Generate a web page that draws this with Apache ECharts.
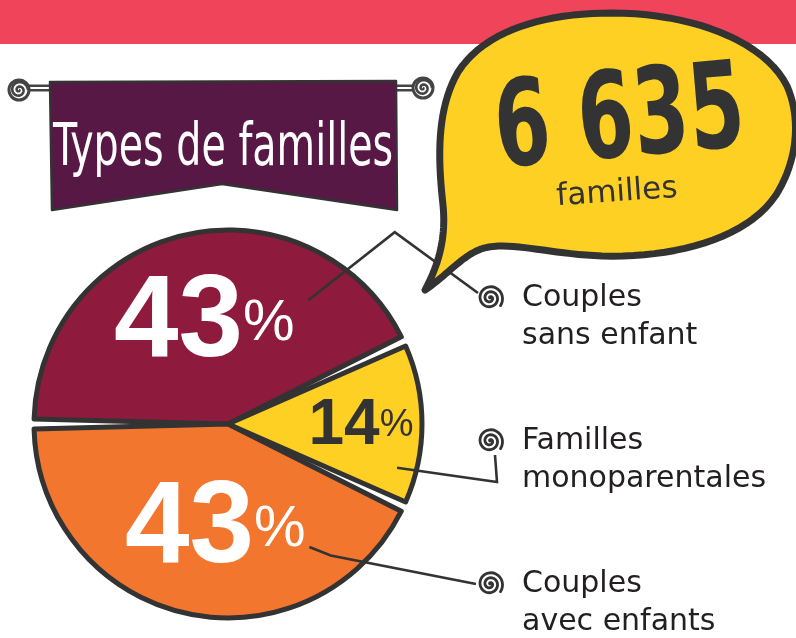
<!DOCTYPE html>
<html><head><meta charset="utf-8">
<script src="https://cdn.jsdelivr.net/npm/echarts@6/dist/echarts.min.js"></script>
<style>html,body{margin:0;padding:0;background:#fff}#c{width:796px;height:638px}</style>
</head><body><div id="c"></div>
<script>
// ---- data ----
const categories = ['Couples sans enfant', 'Familles monoparentales', 'Couples avec enfants'];
const percents = [43, 14, 43];
const totalFamilies = '6 635';
const totalUnit = 'familles';
const titleText = 'Types de familles';

// ---- styles / layout ----
const sliceColors = ['#8E1A3E', '#FDD023', '#F2762E'];
const pctColors = ['#ffffff', '#333333', '#ffffff'];
const INK = '#333333';
const CENTER = [228, 424], R = 194;
const LABEL_X = 522, LABEL_Y = [279, 422, 565], LINE_H = 38;
const spiralC = LABEL_Y.map(y => [LABEL_X - 32, y + LINE_H / 2]);

function pt(deg, f) {
  const a = deg * Math.PI / 180;
  return [CENTER[0] + R * f * Math.cos(a), CENTER[1] - R * f * Math.sin(a)];
}
function spiral(cx, cy, r, turns, rot) {
  const pts = [];
  const n = 80;
  for (let i = 0; i <= n; i++) {
    const t = i / n, a = t * turns * 2 * Math.PI + (rot || 0);
    pts.push([cx + r * t * Math.cos(a), cy + r * t * Math.sin(a)]);
  }
  return pts;
}
function bezierPath(start, segs) {
  const pts = [start];
  let p0 = start;
  segs.forEach(s => {
    const [c1, c2, p3] = s;
    for (let i = 1; i <= 20; i++) {
      const t = i / 20, u = 1 - t;
      pts.push([
        u*u*u*p0[0] + 3*u*u*t*c1[0] + 3*u*t*t*c2[0] + t*t*t*p3[0],
        u*u*u*p0[1] + 3*u*u*t*c1[1] + 3*u*t*t*c2[1] + t*t*t*p3[1]
      ]);
    }
    p0 = p3;
  });
  return pts;
}

const leaderLines = [
  [pt(57, 0.76), pt(49, 1.31), [spiralC[0][0] - 12, spiralC[0][1] - 5]],
  [pt(-14.5, 0.9), [spiralC[1][0] + 7, spiralC[1][1] + 41], [spiralC[1][0] + 5, spiralC[1][1] + 14]],
  [pt(-56.5, 0.76), pt(-52, 0.86), [spiralC[2][0] - 14, spiralC[2][1]]]
];
const pctOffsets = [[-2, -2], [33, 2], [9, 8]];

const bubble = bezierPath([425, 290], [
  [[440, 262], [446, 236], [443, 205]],
  [[438, 160], [436, 110], [458, 72]],
  [[485, 30], [545, 13], [612, 13]],
  [[690, 13], [764, 40], [787, 86]],
  [[801, 118], [798, 160], [776, 195]],
  [[746, 240], [672, 258], [602, 256]],
  [[548, 254], [506, 240], [481, 249]],
  [[462, 256], [446, 276], [425, 290]]
]);

const bannerPts = [[50, 82], [396, 81], [397, 210], [222, 184], [52, 210]];

const graphics = [
  { type: 'rect', z: 0, shape: { x: 0, y: 0, width: 796, height: 44 }, style: { fill: '#EF4459' } },
  // rod
  { type: 'line', z: 1, shape: { x1: 20, y1: 88, x2: 425, y2: 88 }, style: { stroke: '#444', lineWidth: 7, lineCap: 'round' } },
  { type: 'line', z: 1, shape: { x1: 22, y1: 88, x2: 423, y2: 88 }, style: { stroke: '#fff', lineWidth: 2 } },
  { type: 'circle', z: 1, shape: { cx: 19, cy: 90, r: 10 }, style: { fill: '#fff', stroke: '#444', lineWidth: 3 } },
  { type: 'polyline', z: 1, shape: { points: spiral(19, 90, 9, 2, 0) }, style: { stroke: '#444', lineWidth: 2.6, fill: null } },
  { type: 'circle', z: 1, shape: { cx: 423, cy: 88, r: 10 }, style: { fill: '#fff', stroke: '#444', lineWidth: 3 } },
  { type: 'polyline', z: 1, shape: { points: spiral(423, 88, 9, 2, 0) }, style: { stroke: '#444', lineWidth: 2.6, fill: null } },
  // banner
  { type: 'polygon', z: 2, shape: { points: bannerPts }, style: { fill: '#581845', stroke: INK, lineWidth: 2.5, lineJoin: 'round' } },
  { type: 'text', z: 3, x: 223, y: 150, scaleY: 1.35,
    style: { text: titleText, fill: '#fff', font: '44px "Liberation Sans Narrow", "DejaVu Sans Condensed", sans-serif', align: 'center', verticalAlign: 'middle' } },
  // bubble
  { type: 'polygon', z: 5, shape: { points: bubble }, style: { fill: '#FDD023', stroke: INK, lineWidth: 7, lineJoin: 'round' } },
  { type: 'text', z: 6, x: 620, y: 125, rotation: 5 * Math.PI / 180, scaleX: 0.74,
    style: { text: totalFamilies, fill: INK, font: 'bold 120px "Liberation Sans Narrow", "DejaVu Sans Condensed", sans-serif', align: 'center', verticalAlign: 'middle' } },
  { type: 'text', z: 6, x: 617, y: 193, rotation: 4 * Math.PI / 180,
    style: { text: totalUnit, fill: INK, font: '31px "DejaVu Sans", sans-serif', align: 'center', verticalAlign: 'middle' } }
];
spiralC.forEach(c => {
  graphics.push({ type: 'polyline', z: 6, shape: { points: spiral(c[0], c[1], 13, 2.6, Math.PI) }, style: { stroke: INK, lineWidth: 2.8, fill: null, lineCap: 'round' } });
});

const chart = echarts.init(document.getElementById('c'), null, { renderer: 'canvas' });
chart.setOption({
  animation: false,
  backgroundColor: '#fff',
  graphic: { elements: graphics },
  series: [
    {
      type: 'pie', z: 3, silent: true,
      center: CENTER, radius: R, startAngle: 180, clockwise: true, padAngle: 3,
      avoidLabelOverlap: false,
      itemStyle: { borderColor: INK, borderWidth: 5, borderJoin: 'round' },
      emphasis: { disabled: true },
      label: {
        show: true, position: 'inside',
        formatter: p => '{n|' + p.value + '}{p|%}'
      },
      labelLine: { show: false },
      labelLayout: p => ({ dx: pctOffsets[p.dataIndex][0], dy: pctOffsets[p.dataIndex][1] }),
      data: categories.map((c, i) => ({
        name: c, value: percents[i],
        itemStyle: { color: sliceColors[i] },
        label: {
          color: pctColors[i],
          rich: i === 1 ? {
            n: { color: pctColors[i], fontSize: 64, fontWeight: 'bold', fontFamily: '"Liberation Sans Narrow", sans-serif' },
            p: { color: pctColors[i], fontSize: 38, fontFamily: '"Liberation Sans Narrow", sans-serif' }
          } : {
            n: { color: pctColors[i], fontSize: 116, fontWeight: 'bold', fontFamily: '"Liberation Sans Narrow", sans-serif' },
            p: { color: pctColors[i], fontSize: 58, fontFamily: '"Liberation Sans Narrow", sans-serif' }
          }
        }
      }))
    },
    {
      type: 'pie', z: 4, silent: true,
      center: CENTER, radius: R, startAngle: 180, clockwise: true, padAngle: 3,
      avoidLabelOverlap: false,
      itemStyle: { color: 'rgba(0,0,0,0)', borderWidth: 0 },
      emphasis: { disabled: true },
      label: {
        show: true, position: 'outside',
        formatter: p => p.name.replace(' ', '\n'),
        color: '#231F20', fontSize: 30, lineHeight: LINE_H,
        fontFamily: '"DejaVu Sans", sans-serif', align: 'left'
      },
      labelLine: { show: true, length: 10, length2: 10, lineStyle: { color: INK, width: 2.6 } },
      labelLayout: p => ({
        x: LABEL_X, y: LABEL_Y[p.dataIndex], align: 'left', verticalAlign: 'top',
        labelLinePoints: leaderLines[p.dataIndex]
      }),
      data: categories.map((c, i) => ({ name: c, value: percents[i] }))
    }
  ]
});
</script>
</body></html>
